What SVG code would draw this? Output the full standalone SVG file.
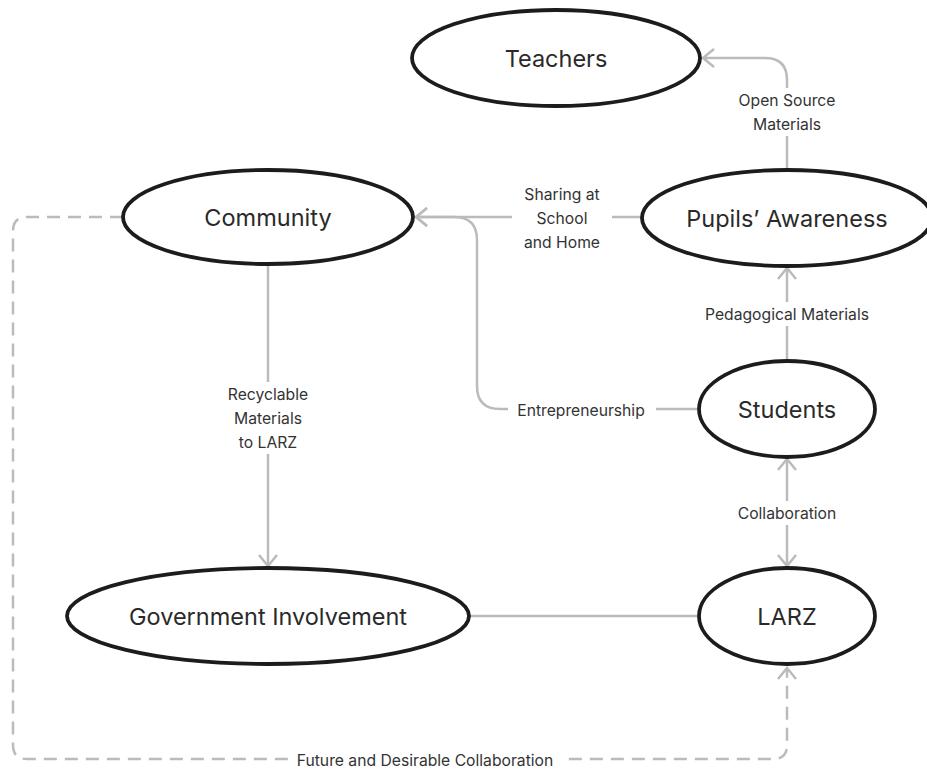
<svg xmlns="http://www.w3.org/2000/svg" width="927" height="770" viewBox="0 0 927 770">
<style>
.node{fill:#fff;stroke:#1c1c1c;stroke-width:3.8}
.nl{font-family:Inter,"Noto Sans",sans-serif;font-size:23.5px;fill:#2a2a2a;text-anchor:middle;dominant-baseline:central}
.el{font-family:Inter,"Noto Sans",sans-serif;font-size:15.7px;fill:#333;text-anchor:middle;dominant-baseline:central}
.c{fill:none;stroke:#bbb;stroke-width:2.5}
.d{fill:none;stroke:#bbb;stroke-width:2.5;stroke-dasharray:13 8}
.bg{fill:#fff}
</style>
<defs>
<marker id="ah" markerUnits="userSpaceOnUse" markerWidth="24" markerHeight="24" viewBox="-14 -12 16 24" refX="0" refY="0" orient="auto-start-reverse">
<path d="M-11,-9 L0,0 L-11,9" fill="none" stroke="#bbb" stroke-width="2.5"/>
</marker>
</defs>
<g id="connectors">
<path class="c" d="M787 170 V80 Q787 58 765 58 H703" marker-end="url(#ah)"/>
<path class="c" d="M642 217 H416" marker-end="url(#ah)"/>
<path class="c" d="M697 409 H500 Q477 409 477 386 V240 Q477 217 454 217 H416" marker-end="url(#ah)"/>
<path class="c" d="M787 361 V268" marker-end="url(#ah)"/>
<path class="c" d="M787 459 V566" marker-start="url(#ah)" marker-end="url(#ah)"/>
<path class="c" d="M268 264 V566" marker-end="url(#ah)"/>
<path class="c" d="M469 616 H697"/>
<path class="d" d="M123 217 H27 Q13 217 13 231 V745 Q13 759 27 759 H773 Q787 759 787 745 V668" marker-end="url(#ah)"/>
<rect class="bg" x="728" y="88" width="118" height="48"/>
<text class="el" x="787" y="100">Open Source</text>
<text class="el" x="787" y="124">Materials</text>
<rect class="bg" x="512" y="182" width="100" height="72"/>
<text class="el" x="562" y="194">Sharing at</text>
<text class="el" x="562" y="218">School</text>
<text class="el" x="562" y="242">and Home</text>
<rect class="bg" x="508" y="398" width="148" height="24"/>
<text class="el" x="581" y="410">Entrepreneurship</text>
<rect class="bg" x="700" y="302" width="176" height="24"/>
<text class="el" x="787" y="314">Pedagogical Materials</text>
<rect class="bg" x="728" y="501" width="118" height="24"/>
<text class="el" x="787" y="513">Collaboration</text>
<rect class="bg" x="218" y="382" width="100" height="72"/>
<text class="el" x="268" y="394">Recyclable</text>
<text class="el" x="268" y="418">Materials</text>
<text class="el" x="268" y="442">to LARZ</text>
<rect class="bg" x="288" y="749" width="274" height="21"/>
<text class="el" x="425" y="760">Future and Desirable Collaboration</text>
</g>
<g id="teachers">
<ellipse class="node" cx="556" cy="58" rx="144" ry="48"/>
<text class="nl" x="556" y="58">Teachers</text>
</g>
<g id="community">
<ellipse class="node" cx="268" cy="217" rx="145" ry="47"/>
<text class="nl" x="268" y="217">Community</text>
</g>
<g id="pupils">
<ellipse class="node" cx="787" cy="218" rx="145" ry="48"/>
<text class="nl" x="787" y="218">Pupils’ Awareness</text>
</g>
<g id="students">
<ellipse class="node" cx="787" cy="409" rx="88" ry="48"/>
<text class="nl" x="787" y="409">Students</text>
</g>
<g id="government">
<ellipse class="node" cx="268" cy="616" rx="201" ry="48"/>
<text class="nl" x="268" y="616">Government Involvement</text>
</g>
<g id="larz">
<ellipse class="node" cx="787" cy="616" rx="88" ry="48"/>
<text class="nl" x="787" y="616">LARZ</text>
</g>
</svg>
